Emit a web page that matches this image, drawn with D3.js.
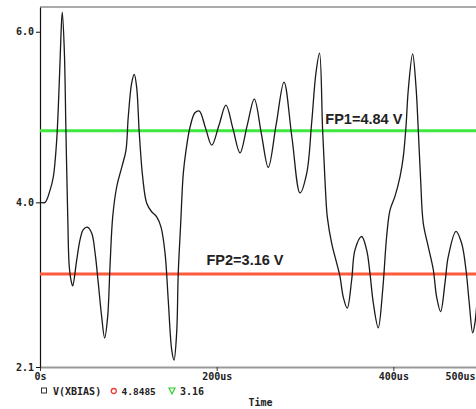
<!DOCTYPE html>
<html>
<head>
<meta charset="utf-8">
<script src="https://cdn.jsdelivr.net/npm/d3@7"></script>
<style>
  html, body { margin: 0; padding: 0; background: #fff; }
  svg { display: block; }
</style>
</head>
<body>
<svg id="chart" width="476" height="409"></svg>
<script>
// ---- data (time in us, voltage in V) ----
const timeUs = [0, 5.7, 11.3, 15.1, 18.9, 21.8, 23.8, 25.2, 27.5, 29.4, 31.4, 33.2, 35.9, 37.0,
  41.5, 45.3, 49.0, 53.5, 58.5, 62.3, 66.0, 69.8, 73.2, 76.6, 79.2, 82.3, 86.8, 92.5, 97.3,
  99.9, 103.8, 106.7, 109.4, 112.4, 116.2, 120.8, 126.4, 132.1, 137.0, 141.5, 145.2, 149.1,
  151.7, 154.7, 156.5, 159.3, 162.2, 165.3, 169.8, 175.4, 180.3, 187.4, 194.4, 202.5, 210.5,
  218.5, 226.4, 234.5, 242.6, 250.5, 258.4, 267.3, 276.2, 285.2, 294.3, 301.9, 307.5, 312.4,
  316.4, 319.9, 322.6, 325.2, 330.2, 335.8, 339.6, 343.3, 347.8, 352.8, 356.5, 364.1, 369.8,
  373.5, 377.3, 382.9, 387.9, 392.4, 396.2, 401.8, 407.5, 411.2, 414.3, 416.9, 421.8, 425.6,
  428.2, 430.9, 433.8, 439.5, 445.2, 449.0, 453.5, 458.4, 462.1, 470.9, 477.3, 482.2, 485.9,
  489.8, 492.4, 495.8, 500.3];
const vXbias = [4.00, 4.00, 4.14, 4.30, 4.73, 5.40, 5.98, 6.23, 5.79, 4.81, 3.83, 3.24, 3.05, 3.02,
  3.32, 3.56, 3.68, 3.71, 3.64, 3.41, 3.05, 2.66, 2.41, 2.66, 3.24, 3.83, 4.18, 4.41, 4.61,
  5.00, 5.40, 5.50, 5.35, 4.81, 4.30, 3.99, 3.89, 3.83, 3.71, 3.41, 2.85, 2.27,
  2.15, 2.47, 3.17, 3.76, 4.34, 4.61, 4.88, 5.05, 5.07, 4.87, 4.67, 4.90, 5.14,
  4.86, 4.58, 4.90, 5.21, 4.81, 4.41, 4.91, 5.41, 4.76, 4.11, 4.34, 4.93, 5.52,
  5.75, 4.85, 4.26, 3.83, 3.52, 3.29, 3.13, 2.89, 2.76, 3.09, 3.44, 3.60, 3.44,
  3.17, 2.82, 2.53, 2.97, 3.60, 3.91, 4.07, 4.30, 4.53, 4.89, 5.32, 5.74, 5.36,
  4.85, 4.26, 3.76, 3.48, 3.21, 2.89, 2.72, 3.05, 3.36, 3.66, 3.52, 3.21, 2.82,
  2.47, 2.59, 2.97, 3.44];

const fp1 = 4.84, fp2 = 3.16;
const fpLabels = ["FP1=4.84 V", "FP2=3.16 V"];
const yTickValues = [2.07, 4.0, 6.0];
const yTickLabels = ["2.1", "4.0", "6.0"];
const xTickValues = [0, 200, 400, 500];
const xTickLabels = ["0s", "200us", "400us", "500us"];
const legendTexts = ["V(XBIAS)", "4.8485", "3.16"];
const xTitle = "Time";

// ---- layout ----
const W = 476;
const svg = d3.select("#chart");
const x = d3.scaleLinear().domain([0, 500]).range([40, 481.7]);
const y = d3.scaleLinear().domain([2.07, 6.29]).range([367, 7]);
const monoFont = "'DejaVu Sans Mono', monospace";

// top border
svg.append("line")
  .attr("x1", x(0)).attr("x2", W)
  .attr("y1", y(6.29)).attr("y2", y(6.29))
  .attr("stroke", "#aaa").attr("stroke-width", 2);

// bottom axis
const xAxis = d3.axisBottom(x).tickValues(xTickValues)
  .tickFormat((d, i) => xTickLabels[i]).tickSize(4).tickSizeOuter(0);
const gx = svg.append("g").attr("transform", `translate(0,${y(2.07)})`).call(xAxis);
gx.select(".domain").attr("stroke", "#999").attr("stroke-width", 2);
gx.selectAll(".tick line").attr("stroke", "#333");
gx.selectAll(".tick text")
  .attr("font-family", monoFont).attr("font-size", 10).attr("font-weight", "bold")
  .attr("fill", "#222").attr("dy", "0.55em")
  .attr("text-anchor", (d, i) => i === xTickLabels.length - 1 ? "end" : "middle")
  .attr("x", (d, i) => i === xTickLabels.length - 1 ? (W - 1 - x(d)) : 0);

// left axis
const yAxis = d3.axisLeft(y).tickValues(yTickValues)
  .tickFormat((d, i) => yTickLabels[i]).tickSize(4).tickSizeOuter(0);
const gy = svg.append("g").attr("transform", `translate(${x(0)},0)`).call(yAxis);
gy.select(".domain").attr("stroke", "#111").attr("stroke-width", 1.2);
gy.selectAll(".tick line").attr("stroke", "#111");
gy.selectAll(".tick text")
  .attr("font-family", monoFont).attr("font-size", 10).attr("font-weight", "bold")
  .attr("fill", "#222").attr("x", -6);

// reference lines
svg.append("line")
  .attr("x1", x(0)).attr("x2", W).attr("y1", y(fp1)).attr("y2", y(fp1))
  .attr("stroke", "#3ee83e").attr("stroke-width", 3);
svg.append("line")
  .attr("x1", x(0)).attr("x2", W).attr("y1", y(fp2)).attr("y2", y(fp2))
  .attr("stroke", "#ff5a3c").attr("stroke-width", 3);

// waveform
const pts = timeUs.map((t, i) => [t, vXbias[i]]);
const line = d3.line().x(d => x(d[0])).y(d => y(d[1])).curve(d3.curveCatmullRom.alpha(0.5));
svg.append("path").datum(pts).attr("d", line)
  .attr("fill", "none").attr("stroke", "#1a1a1a").attr("stroke-width", 1.3);

// annotations
svg.append("text").attr("x", x(323)).attr("y", y(fp1) - 7)
  .attr("font-family", "'Liberation Sans', Arial, sans-serif").attr("font-weight", "bold")
  .attr("font-size", 14.5).attr("fill", "#222").text(fpLabels[0]);
svg.append("text").attr("x", x(188.5)).attr("y", y(fp2) - 9)
  .attr("font-family", "'Liberation Sans', Arial, sans-serif").attr("font-weight", "bold")
  .attr("font-size", 14.5).attr("fill", "#222").text(fpLabels[1]);

// legend
const ly = 391;
svg.append("rect").attr("x", 41.5).attr("y", ly - 3).attr("width", 5).attr("height", 5)
  .attr("fill", "none").attr("stroke", "#333").attr("stroke-width", 1);
svg.append("text").attr("x", 53).attr("y", ly + 4)
  .attr("font-family", monoFont).attr("font-size", 10).attr("font-weight", "bold")
  .attr("fill", "#222").text(legendTexts[0]);
svg.append("circle").attr("cx", 113.8).attr("cy", ly).attr("r", 2.5)
  .attr("fill", "none").attr("stroke", "#f03c3c").attr("stroke-width", 1.3);
svg.append("text").attr("x", 121.5).attr("y", ly + 4)
  .attr("font-family", monoFont).attr("font-size", 9.5).attr("font-weight", "bold")
  .attr("fill", "#222").text(legendTexts[1]);
svg.append("path")
  .attr("d", `M${169},${ly - 3} L${175},${ly - 3} L${172},${ly + 3} Z`)
  .attr("fill", "none").attr("stroke", "#2ecc2e").attr("stroke-width", 1.2);
svg.append("text").attr("x", 180).attr("y", ly + 4)
  .attr("font-family", monoFont).attr("font-size", 10).attr("font-weight", "bold")
  .attr("fill", "#222").text(legendTexts[2]);

// x title
svg.append("text").attr("x", 260.5).attr("y", 406).attr("text-anchor", "middle")
  .attr("font-family", monoFont).attr("font-size", 10).attr("font-weight", "bold")
  .attr("fill", "#222").text(xTitle);
</script>
</body>
</html>
